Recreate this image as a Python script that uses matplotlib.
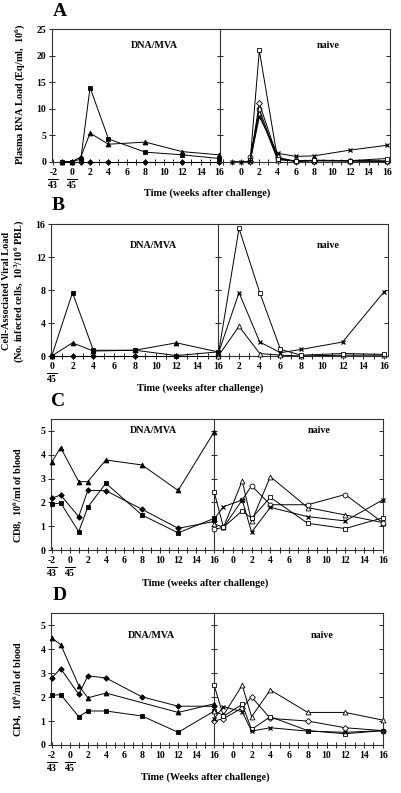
import matplotlib
matplotlib.use("Agg")
import matplotlib.pyplot as plt
from matplotlib.ticker import MultipleLocator

plt.rcParams['font.family'] = 'Liberation Serif'
plt.rcParams['font.weight'] = 'bold'
plt.rcParams['mathtext.fontset'] = 'custom'
plt.rcParams['mathtext.rm'] = 'Liberation Serif:bold'
plt.rcParams['mathtext.bf'] = 'Liberation Serif:bold'
plt.rcParams['mathtext.it'] = 'Liberation Serif:bold'
plt.rcParams['mathtext.default'] = 'bf'

# ---- panel A: plasma RNA load ----
a_left_wk = [-1, 0, 1, 2, 4, 8, 12, 16]
a_sq = [0, 0, 0.5, 14.0, 4.3, 1.8, 1.3, 0.6]
a_tri = [0, 0, 0.9, 5.4, 3.3, 3.7, 1.9, 1.3]
a_dia = [0, 0, 0, 0, 0, 0, 0, 0]
a_right_wk = [1, 2, 4, 6, 8, 12, 16]
a_osq = [0.3, 21.0, 0.6, 0.1, 0.3, 0.2, 0.6]
a_odia = [0.2, 11.0, 0.8, 0.1, 0.2, 0.2, 0.1]
a_ocirc = [0.8, 9.9, 0.5, 0.1, 0.2, 0.1, 0.1]
a_otri = [0.1, 9.2, 0.4, 0.1, 0.2, 0.2, 0.1]
a_x_wk = [-1, 0, 1, 2, 4, 6, 8, 12, 16]
a_x = [0, 0, 0.1, 8.5, 1.6, 1.0, 1.1, 2.2, 3.1]

# ---- panel B: cell-associated viral load ----
b_left_wk = [0, 2, 4, 8, 12, 16]
b_sq = [0, 7.7, 0.7, 0.7, 0.05, 0.5]
b_tri = [0, 1.6, 0.6, 0.7, 1.6, 0.5]
b_dia = [0, 0, 0, 0, 0, 0]
b_right_wk = [0, 2, 4, 6, 8, 12, 16]
b_osq = [0.2, 15.5, 7.7, 0.8, 0.1, 0.3, 0.2]
b_x = [0.3, 7.7, 1.7, 0.4, 0.8, 1.7, 7.8]
b_otri = [0.0, 3.6, 0.3, 0.1, 0.0, 0.1, 0.1]

# ---- panel C: CD8 ----
c_left_wk = [-2, -1, 1, 2, 4, 8, 12, 16]
c_tri = [3.68, 4.3, 2.87, 2.87, 3.78, 3.57, 2.5, 4.97]
c_dia = [2.17, 2.31, 1.4, 2.5, 2.49, 1.71, 0.91, 1.2]
c_sq = [1.92, 1.98, 0.77, 1.8, 2.8, 1.47, 0.72, 1.33]
c_right_wk = [-2, -1, 1, 2, 4, 8, 12, 16]
c_osq = [2.45, 0.95, 1.65, 1.33, 2.21, 1.12, 0.9, 1.35]
c_ocirc = [0.87, 0.95, 2.1, 2.7, 1.9, 1.9, 2.33, 1.15]
c_otri = [1.1, 0.95, 2.9, 1.2, 3.08, 1.78, 1.47, 1.15]
c_x = [1.3, 1.82, 2.1, 0.75, 1.79, 1.4, 1.22, 2.1]

# ---- panel D: CD4 ----
d_left_wk = [-2, -1, 1, 2, 4, 8, 12, 16]
d_tri_wk = [-2, -1, 1, 2, 4, 12, 16]
d_tri = [4.47, 4.19, 2.47, 1.97, 2.17, 1.36, 1.72]
d_dia = [2.8, 3.19, 2.11, 2.89, 2.8, 2.01, 1.62, 1.62]
d_sq = [2.08, 2.1, 1.18, 1.42, 1.42, 1.21, 0.53, 1.42]
d_right_wk = [-2, -1, 1, 2, 4, 8, 12, 16]
d_osq = [2.5, 1.2, 1.7, 0.65, 1.18, 0.6, 0.47, 0.6]
d_otri = [1.4, 1.25, 2.5, 1.18, 2.3, 1.36, 1.36, 1.04]
d_odia = [1.0, 1.1, 1.55, 2.01, 1.11, 1.0, 0.72, 0.6]
d_x = [1.1, 1.6, 1.39, 0.58, 0.72, 0.58, 0.53, 0.6]

W, H = 401, 793
fig = plt.figure(figsize=(W / 100, H / 100), dpi=100)
FS = 7


def box(l, r, t, b):
    return [l / W, 1 - b / H, (r - l) / W, (b - t) / H]


def style(ax, left):
    ax.patch.set_visible(False)
    for s in ax.spines.values():
        s.set_linewidth(0.8)
        s.set_color('#333333')
    ax.xaxis.set_minor_locator(MultipleLocator(1))
    ax.tick_params(axis='x', which='both', direction='inout', length=5,
                   width=0.6, labelsize=FS, pad=2)
    if left:
        ax.tick_params(axis='y', direction='inout', length=4, width=0.6,
                       left=True, right=True, labelsize=FS, pad=2)
    else:
        ax.spines['left'].set_visible(False)
        ax.tick_params(axis='y', direction='in', length=3, width=0.6,
                       left=False, right=True, labelleft=False)


def frac(ax, x, bottom):
    ax.annotate(r'$\overline{%s}$' % bottom, xy=(x, 0),
                xycoords=ax.get_xaxis_transform(), xytext=(0, -15),
                textcoords='offset pixels', ha='center', va='top', fontsize=FS)


def line(ax, x, y, m, filled, ms=3.5):
    ax.plot(x, y, color='black', lw=0.7, marker=m, ms=ms,
            mfc='black' if filled else 'white', mec='black',
            mew=0.9 if m == 'x' else 0.6, clip_on=False, zorder=3)


def panel(l, d, r, t, b, xl, xr, ylim, yticks):
    axL = fig.add_axes(box(l, d, t, b))
    axR = fig.add_axes(box(d, r, t, b))
    axL.set_xlim(*xl)
    axR.set_xlim(*xr)
    for ax in (axL, axR):
        ax.set_ylim(*ylim)
        ax.set_yticks(yticks)
    style(axL, True)
    style(axR, False)
    return axL, axR


# ---------------- A ----------------
axL, axR = panel(51.7, 220, 390, 29.3, 161.7, (-2.16, 16.1), (-2.32, 16.36),
                 (0, 25), [0, 5, 10, 15, 20, 25])
axL.set_xticks(range(-2, 17, 2), ['-2'] + [str(v) for v in range(0, 17, 2)])
axR.set_xticks(range(0, 17, 2), [str(v) for v in range(0, 17, 2)])
frac(axL, -2, '43')
frac(axL, 0, '45')
line(axL, a_left_wk, a_dia, 'D', True, 2.8)
line(axL, a_left_wk, a_tri, '^', True)
line(axL, a_left_wk, a_sq, 's', True)
line(axR, a_right_wk, a_otri, '^', False)
line(axR, a_right_wk, a_ocirc, 'o', False)
line(axR, a_right_wk, a_odia, 'D', False, 3)
line(axR, a_right_wk, a_osq, 's', False)
line(axR, a_x_wk, a_x, 'x', False)
axL.text(0.61, 0.874, 'DNA/MVA', transform=axL.transAxes, ha='center', va='center', fontsize=7.2)
axR.text(0.637, 0.874, 'naive', transform=axR.transAxes, ha='center', va='center', fontsize=7.2)

# ---------------- B ----------------
axL, axR = panel(51, 218.3, 387.7, 224.3, 356, (-0.07, 16.03), (0, 16.35),
                 (0, 16), [0, 4, 8, 12, 16])
axL.set_xticks(range(0, 17, 2), [str(v) for v in range(0, 17, 2)])
axR.set_xticks(range(2, 17, 2), [str(v) for v in range(2, 17, 2)])
frac(axL, 0, '45')
line(axL, b_left_wk, b_dia, 'D', True, 2.8)
line(axL, b_left_wk, b_tri, '^', True)
line(axL, b_left_wk, b_sq, 's', True)
line(axR, b_right_wk, b_otri, '^', False)
line(axR, b_right_wk, b_osq, 's', False)
line(axR, b_right_wk, b_x, 'x', False)
axL.text(0.61, 0.84, 'DNA/MVA', transform=axL.transAxes, ha='center', va='center', fontsize=7.2)
axR.text(0.65, 0.84, 'naive', transform=axR.transAxes, ha='center', va='center', fontsize=7.2)

# ---------------- C ----------------
axL, axR = panel(50.7, 214.3, 382.7, 419, 550, (-2.1, 16.0), (-1.98, 15.95),
                 (0, 5.5), [0, 1, 2, 3, 4, 5])
axL.set_xticks(range(-2, 17, 2), ['-2'] + [str(v) for v in range(0, 17, 2)])
axR.set_xticks(range(0, 17, 2), [str(v) for v in range(0, 17, 2)])
frac(axL, -2, '43')
frac(axL, 0, '45')
line(axL, c_left_wk, c_tri, '^', True)
line(axL, c_left_wk, c_dia, 'D', True, 2.8)
line(axL, c_left_wk, c_sq, 's', True)
line(axR, c_right_wk, c_otri, '^', False)
line(axR, c_right_wk, c_ocirc, 'o', False)
line(axR, c_right_wk, c_osq, 's', False)
line(axR, c_right_wk, c_x, 'x', False)
axL.text(0.625, 0.91, 'DNA/MVA', transform=axL.transAxes, ha='center', va='center', fontsize=7.2)
axR.text(0.62, 0.91, 'naive', transform=axR.transAxes, ha='center', va='center', fontsize=7.2)

# ---------------- D ----------------
axL, axR = panel(51, 214.3, 382.7, 613.3, 745, (-2.08, 16.0), (-1.98, 15.95),
                 (0, 5.5), [0, 1, 2, 3, 4, 5])
axL.set_xticks(range(-2, 17, 2), ['-2'] + [str(v) for v in range(0, 17, 2)])
axR.set_xticks(range(0, 17, 2), [str(v) for v in range(0, 17, 2)])
frac(axL, -2, '43')
frac(axL, 0, '45')
line(axL, d_tri_wk, d_tri, '^', True)
line(axL, d_left_wk, d_dia, 'D', True, 2.8)
line(axL, d_left_wk, d_sq, 's', True)
line(axR, d_right_wk, d_otri, '^', False)
line(axR, d_right_wk, d_odia, 'D', False, 3)
line(axR, d_right_wk, d_osq, 's', False)
line(axR, d_right_wk, d_x, 'x', False)
axL.text(0.615, 0.835, 'DNA/MVA', transform=axL.transAxes, ha='center', va='center', fontsize=7.2)
axR.text(0.64, 0.835, 'naive', transform=axR.transAxes, ha='center', va='center', fontsize=7.2)

# ---------------- figure texts ----------------
def ftext(x, y, s, **kw):
    fig.text(x / W, 1 - y / H, s, ha='center', va='center', **kw)

ftext(60, 12, 'A', fontsize=14)
ftext(58, 205, 'B', fontsize=14)
ftext(58, 401, 'C', fontsize=14)
ftext(60, 596, 'D', fontsize=14)

ftext(207, 193, 'Time (weeks after challenge)', fontsize=7.4)
ftext(200, 388, 'Time (weeks after challenge)', fontsize=7.4)
ftext(205, 583, 'Time (weeks after challenge)', fontsize=7.4)
ftext(205, 777, 'Time (Weeks after challenge)', fontsize=7.4)

ftext(20, 94, r'Plasma RNA Load (Eq/ml,  10$^6$)', fontsize=7.4, rotation=90)
ftext(14, 291, 'Cell-Associated Viral Load\n' + r'(No. infected cells,  10$^3$/10$^6$ PBL)',
      fontsize=7.4, rotation=90, linespacing=1.1)
ftext(18, 495, r'CD8,  10$^6$/ml of blood', fontsize=7.4, rotation=90)
ftext(18, 689, r'CD4,  10$^6$/ml of blood', fontsize=7.4, rotation=90)

fig.savefig('out.png', dpi=100)
